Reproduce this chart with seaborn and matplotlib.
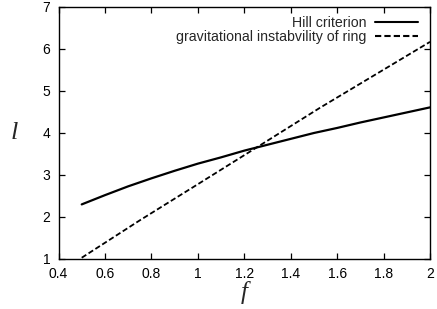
import matplotlib
matplotlib.use("Agg")
import matplotlib.pyplot as plt
import seaborn as sns
import pandas as pd

# Data
hill_f = [0.5, 0.6, 0.7, 0.8, 0.9, 1.0, 1.1, 1.2, 1.3, 1.4, 1.5, 1.6, 1.7, 1.8, 1.9, 2.0]
hill_l = [2.30, 2.52, 2.73, 2.92, 3.10, 3.27, 3.42, 3.58, 3.72, 3.86, 4.00, 4.12, 4.25, 4.37, 4.49, 4.61]
ring_f = [0.5, 0.75, 1.0, 1.243, 1.526, 2.0]
ring_l = [1.03, 1.92, 2.78, 3.62, 4.60, 6.17]

x_ticks = [0.4, 0.6, 0.8, 1.0, 1.2, 1.4, 1.6, 1.8, 2.0]
x_tick_labels = ["0.4", "0.6", "0.8", "1", "1.2", "1.4", "1.6", "1.8", "2"]
y_ticks = [1, 2, 3, 4, 5, 6, 7]
labels = ["Hill criterion", "gravitational instabvility of ring"]

sns.set_style("ticks")
plt.rcParams["font.family"] = ["Liberation Sans", "DejaVu Sans"]

fig = plt.figure(figsize=(4.37, 3.09), dpi=100)
ax = fig.add_axes([58.5 / 437, 1 - 259 / 309, (430 - 58.5) / 437, (259 - 7) / 309])

df_hill = pd.DataFrame({"f": hill_f, "l": hill_l})
df_ring = pd.DataFrame({"f": ring_f, "l": ring_l})

sns.lineplot(data=df_hill, x="f", y="l", ax=ax, color="black", lw=1.6, label=labels[0])
sns.lineplot(data=df_ring, x="f", y="l", ax=ax, color="black", lw=1.3, label=labels[1])
ax.lines[1].set_dashes((3.0, 1.5))

ax.set_xlim(0.4, 2.0)
ax.set_ylim(1, 7)
ax.set_xticks(x_ticks)
ax.set_xticklabels(x_tick_labels)
ax.set_yticks(y_ticks)
ax.tick_params(direction="in", length=4, width=0.9, top=True, right=True,
               labelsize=10, pad=6, colors="black")
for s in ax.spines.values():
    s.set_visible(True)
    s.set_linewidth(1.0)
    s.set_color("black")

ax.set_xlabel("f", fontfamily="Liberation Serif", fontstyle="italic", fontsize=18, labelpad=0)
ax.set_ylabel("l", fontfamily="Liberation Serif", fontstyle="italic", fontsize=19,
              rotation=0, labelpad=20, va="center")

leg = ax.legend(loc="upper right", bbox_to_anchor=(0.9822, 0.9857), frameon=False,
                markerfirst=False, fontsize=10.2,
                handlelength=3.0, handletextpad=0.6, labelspacing=0.0,
                borderaxespad=0.0)
for h in leg.get_lines():
    h.set_linewidth(1.5)

fig.savefig("out.png", dpi=100)
